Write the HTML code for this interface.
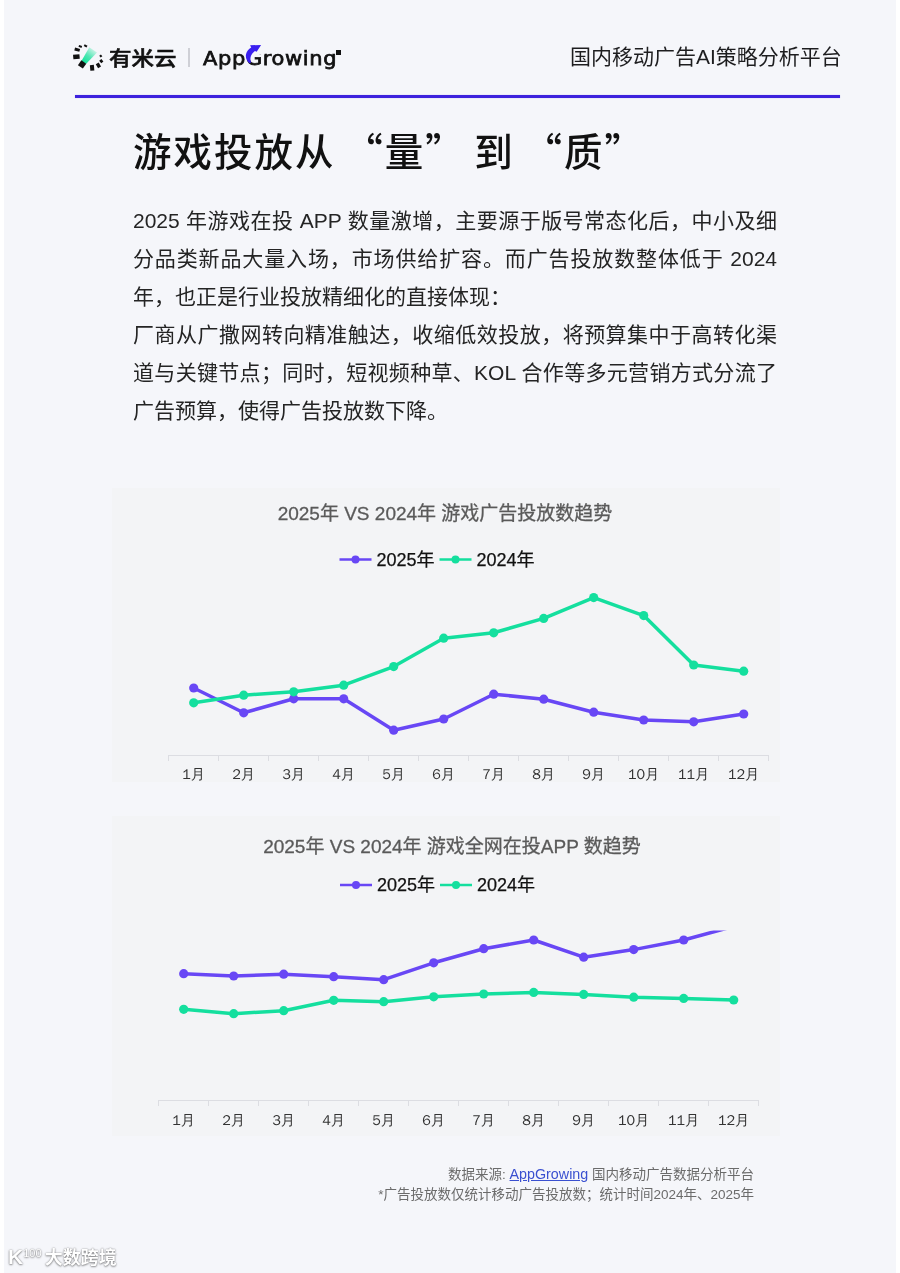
<!DOCTYPE html>
<html lang="zh-CN">
<head>
<meta charset="utf-8">
<title>游戏投放从“量”到“质”</title>
<style>
html,body{margin:0;padding:0;}
body{width:900px;height:1273px;background:#ffffff;position:relative;overflow:hidden;font-family:"Liberation Sans","Noto Sans CJK SC",sans-serif;}
.page{position:absolute;left:4px;top:0;width:892px;height:1273px;background:#f5f6fa;}
.abs{position:absolute;}
.cjk{font-family:"Noto Sans CJK SC",sans-serif;}
.brand-cn{left:109px;top:40px;font-size:22.5px;font-weight:500;color:#111;line-height:34px;white-space:nowrap;transform:scaleY(0.89);transform-origin:50% 58%;-webkit-text-stroke:0.6px #111;}
.sep{left:188px;top:48px;width:1.5px;height:19px;background:#cfd0d6;}
.ag{left:203px;top:42px;font-size:19.6px;font-weight:400;color:#111;line-height:34px;white-space:nowrap;font-family:"DejaVu Sans","Liberation Sans",sans-serif;-webkit-text-stroke:0.75px #111;letter-spacing:0.6px;transform:scaleX(1.07);transform-origin:0 50%;}
.tagline{left:570px;top:40px;font-size:21px;color:#1d1d1f;line-height:34px;white-space:nowrap;}
.rule{left:75px;top:95px;width:765px;height:3px;background:#3d22dd;box-shadow:0 0 1px rgba(70,45,225,.5);}
.title{left:133px;top:120.5px;font-size:38.5px;letter-spacing:2px;word-spacing:-2px;font-weight:500;color:#111;line-height:56px;white-space:nowrap;}
.body{left:133px;top:202px;width:644px;font-size:21px;line-height:38px;color:#242424;}
.ln{height:38px;white-space:nowrap;}
.ln.j{text-align:justify;text-align-last:justify;white-space:normal;}
.panel{background:#f3f4f6;}
.foot{right:146px;font-size:13.5px;color:#6b6b6b;text-align:right;line-height:20px;white-space:nowrap;}
.foot a{color:#3a50d0;text-decoration:underline;font-size:14.3px;}
.wm{left:8px;top:1238px;color:#fff;font-size:18.5px;line-height:30px;white-space:nowrap;text-shadow:0 0 1.5px rgba(0,0,0,.5),0 1px 2px rgba(0,0,0,.35);}
svg text{font-family:"Liberation Sans","Noto Sans CJK SC",sans-serif;}
svg text.ax{font-family:"WenQuanYi Zen Hei",sans-serif;}
</style>
</head>
<body>
<div class="page"></div>

<!-- header -->
<svg class="abs" style="left:68px;top:40px" width="40" height="34" viewBox="68 40 40 34">
  <defs>
    <linearGradient id="lg" x1="82" y1="63" x2="95" y2="47" gradientUnits="userSpaceOnUse">
      <stop offset="0" stop-color="#06e295"/>
      <stop offset="0.45" stop-color="#4fe6b3"/>
      <stop offset="1" stop-color="#f0f8f6"/>
    </linearGradient>
  </defs>
  <polygon points="81.3,61.3 89.3,47.2 97,52.6 86.2,63.8" fill="url(#lg)"/>
  <rect x="-1.6" y="-1" width="3.2" height="2" fill="#111" transform="translate(80.3 46.4) rotate(20)"/>
  <rect x="-1.6" y="-1" width="3.2" height="2" fill="#111" transform="translate(85.6 45.9) rotate(30)"/>
  <rect x="-2.6" y="-1.5" width="5.2" height="3" fill="#111" transform="translate(77.2 49.7) rotate(15)"/>
  <rect x="-3.2" y="-2.3" width="6.4" height="4.6" fill="#111" transform="translate(76.4 56.8) rotate(-5)"/>
  <rect x="-3" y="-3" width="6" height="6" fill="#111" transform="translate(82.1 64.4) rotate(35)"/>
  <rect x="-2" y="-2.8" width="4" height="5.6" fill="#111" transform="translate(92.1 67.8) rotate(-5)"/>
  <rect x="-1.7" y="-2.3" width="3.4" height="4.6" fill="#111" transform="translate(98.4 65.3) rotate(-30)"/>
  <rect x="-1.4" y="-1.6" width="2.8" height="3.2" fill="#111" transform="translate(101.3 61.2) rotate(-40)"/>
  <rect x="-1.1" y="-1.1" width="2.2" height="2.2" fill="#111" transform="translate(100.8 56) rotate(-40)"/>
</svg>
<div class="abs brand-cn cjk">有米云</div>
<div class="abs sep"></div>
<div class="abs ag">AppGrowing</div>
<div class="abs" style="left:336px;top:50px;width:5px;height:5px;background:#111;"></div>
<svg class="abs" style="left:244px;top:42px" width="24" height="26" viewBox="244 42 24 26"><rect x="251.5" y="49" width="13" height="5.6" fill="#f5f6fa"/><path d="M249.3,63.3 C246.4,60.2 245.3,57.2 246.1,54 C246.8,51.3 248.6,49.2 251.2,47.6 L250.1,45.2 L261.1,45.0 L256.7,51.8 L254.9,50.9 C253,52.3 251.4,54.2 250.7,56.8 C250.2,58.8 250.4,60.8 251.1,62.6 Z" fill="#3a1ff0"/></svg>
<div class="abs tagline">国内移动广告AI策略分析平台</div>
<div class="abs rule"></div>

<!-- title -->
<div class="abs title cjk">游戏投放从 “量” 到 “质”</div>

<div class="abs body">
<div class="ln j">2025 年游戏在投 APP 数量激增，主要源于版号常态化后，中小及细</div>
<div class="ln j">分品类新品大量入场，市场供给扩容。而广告投放数整体低于 2024</div>
<div class="ln">年，也正是行业投放精细化的直接体现：</div>
<div class="ln j">厂商从广撒网转向精准触达，收缩低效投放，将预算集中于高转化渠</div>
<div class="ln j">道与关键节点；同时，短视频种草、KOL 合作等多元营销方式分流了</div>
<div class="ln">广告预算，使得广告投放数下降。</div>
</div>

<!-- chart panels -->
<div class="abs panel" style="left:112px;top:488px;width:668px;height:294px;"></div>
<div class="abs panel" style="left:112px;top:816px;width:668px;height:320px;"></div>

<svg class="abs" style="left:0;top:0" width="900" height="1273" viewBox="0 0 900 1273">
<text x="445" y="520" text-anchor="middle" font-size="19" fill="#5a5a5a" stroke="#5a5a5a" stroke-width="0.3">2025年 VS 2024年 游戏广告投放数趋势</text>
<line x1="339.5" y1="559.5" x2="371.5" y2="559.5" stroke="#6847f5" stroke-width="2.5"/>
<circle cx="355.5" cy="559.5" r="4" fill="#6847f5"/>
<text x="376.5" y="565.5" font-size="18" fill="#111" stroke="#111" stroke-width="0.25">2025年</text>
<line x1="439.5" y1="559.5" x2="471.5" y2="559.5" stroke="#14df9e" stroke-width="2.5"/>
<circle cx="455.5" cy="559.5" r="4" fill="#14df9e"/>
<text x="476.5" y="565.5" font-size="18" fill="#111" stroke="#111" stroke-width="0.25">2024年</text>
<line x1="169" y1="755.5" x2="769" y2="755.5" stroke="#dcdde2" stroke-width="1"/>
<line x1="168.5" y1="755" x2="168.5" y2="761" stroke="#dcdde2" stroke-width="1"/>
<line x1="218.5" y1="755" x2="218.5" y2="761" stroke="#dcdde2" stroke-width="1"/>
<line x1="268.5" y1="755" x2="268.5" y2="761" stroke="#dcdde2" stroke-width="1"/>
<line x1="318.5" y1="755" x2="318.5" y2="761" stroke="#dcdde2" stroke-width="1"/>
<line x1="368.5" y1="755" x2="368.5" y2="761" stroke="#dcdde2" stroke-width="1"/>
<line x1="418.5" y1="755" x2="418.5" y2="761" stroke="#dcdde2" stroke-width="1"/>
<line x1="468.5" y1="755" x2="468.5" y2="761" stroke="#dcdde2" stroke-width="1"/>
<line x1="518.5" y1="755" x2="518.5" y2="761" stroke="#dcdde2" stroke-width="1"/>
<line x1="568.5" y1="755" x2="568.5" y2="761" stroke="#dcdde2" stroke-width="1"/>
<line x1="618.5" y1="755" x2="618.5" y2="761" stroke="#dcdde2" stroke-width="1"/>
<line x1="668.5" y1="755" x2="668.5" y2="761" stroke="#dcdde2" stroke-width="1"/>
<line x1="718.5" y1="755" x2="718.5" y2="761" stroke="#dcdde2" stroke-width="1"/>
<line x1="768.5" y1="755" x2="768.5" y2="761" stroke="#dcdde2" stroke-width="1"/>
<text class="ax" x="193.7" y="779" text-anchor="middle" font-size="14.3" fill="#333">1月</text>
<text class="ax" x="243.7" y="779" text-anchor="middle" font-size="14.3" fill="#333">2月</text>
<text class="ax" x="293.7" y="779" text-anchor="middle" font-size="14.3" fill="#333">3月</text>
<text class="ax" x="343.7" y="779" text-anchor="middle" font-size="14.3" fill="#333">4月</text>
<text class="ax" x="393.7" y="779" text-anchor="middle" font-size="14.3" fill="#333">5月</text>
<text class="ax" x="443.7" y="779" text-anchor="middle" font-size="14.3" fill="#333">6月</text>
<text class="ax" x="493.7" y="779" text-anchor="middle" font-size="14.3" fill="#333">7月</text>
<text class="ax" x="543.7" y="779" text-anchor="middle" font-size="14.3" fill="#333">8月</text>
<text class="ax" x="593.7" y="779" text-anchor="middle" font-size="14.3" fill="#333">9月</text>
<text class="ax" x="643.7" y="779" text-anchor="middle" font-size="14.3" fill="#333">10月</text>
<text class="ax" x="693.7" y="779" text-anchor="middle" font-size="14.3" fill="#333">11月</text>
<text class="ax" x="743.7" y="779" text-anchor="middle" font-size="14.3" fill="#333">12月</text>
<g><polyline points="193.7,688 243.7,712.8 293.7,698.8 343.7,698.8 393.7,730.2 443.7,719 493.7,694.2 543.7,699.2 593.7,712.2 643.7,720 693.7,721.8 743.7,714" fill="none" stroke="#6847f5" stroke-width="3.5" stroke-linejoin="round"/>
<circle cx="193.7" cy="688" r="4.6" fill="#6847f5"/>
<circle cx="243.7" cy="712.8" r="4.6" fill="#6847f5"/>
<circle cx="293.7" cy="698.8" r="4.6" fill="#6847f5"/>
<circle cx="343.7" cy="698.8" r="4.6" fill="#6847f5"/>
<circle cx="393.7" cy="730.2" r="4.6" fill="#6847f5"/>
<circle cx="443.7" cy="719" r="4.6" fill="#6847f5"/>
<circle cx="493.7" cy="694.2" r="4.6" fill="#6847f5"/>
<circle cx="543.7" cy="699.2" r="4.6" fill="#6847f5"/>
<circle cx="593.7" cy="712.2" r="4.6" fill="#6847f5"/>
<circle cx="643.7" cy="720" r="4.6" fill="#6847f5"/>
<circle cx="693.7" cy="721.8" r="4.6" fill="#6847f5"/>
<circle cx="743.7" cy="714" r="4.6" fill="#6847f5"/>
</g>
<g><polyline points="193.7,702.8 243.7,695.2 293.7,691.8 343.7,685.2 393.7,666.6 443.7,638.2 493.7,632.8 543.7,618.4 593.7,597.6 643.7,615.6 693.7,665 743.7,671.2" fill="none" stroke="#14df9e" stroke-width="3.5" stroke-linejoin="round"/>
<circle cx="193.7" cy="702.8" r="4.6" fill="#14df9e"/>
<circle cx="243.7" cy="695.2" r="4.6" fill="#14df9e"/>
<circle cx="293.7" cy="691.8" r="4.6" fill="#14df9e"/>
<circle cx="343.7" cy="685.2" r="4.6" fill="#14df9e"/>
<circle cx="393.7" cy="666.6" r="4.6" fill="#14df9e"/>
<circle cx="443.7" cy="638.2" r="4.6" fill="#14df9e"/>
<circle cx="493.7" cy="632.8" r="4.6" fill="#14df9e"/>
<circle cx="543.7" cy="618.4" r="4.6" fill="#14df9e"/>
<circle cx="593.7" cy="597.6" r="4.6" fill="#14df9e"/>
<circle cx="643.7" cy="615.6" r="4.6" fill="#14df9e"/>
<circle cx="693.7" cy="665" r="4.6" fill="#14df9e"/>
<circle cx="743.7" cy="671.2" r="4.6" fill="#14df9e"/>
</g>
<defs><clipPath id="cp2"><rect x="0" y="930.5" width="900" height="400"/></clipPath></defs>
<text x="452" y="853" text-anchor="middle" font-size="19" fill="#5a5a5a" stroke="#5a5a5a" stroke-width="0.3">2025年 VS 2024年 游戏全网在投APP 数趋势</text>
<line x1="340" y1="885" x2="372" y2="885" stroke="#6847f5" stroke-width="2.5"/>
<circle cx="356" cy="885" r="4" fill="#6847f5"/>
<text x="377" y="891" font-size="18" fill="#111" stroke="#111" stroke-width="0.25">2025年</text>
<line x1="440" y1="885" x2="472" y2="885" stroke="#14df9e" stroke-width="2.5"/>
<circle cx="456" cy="885" r="4" fill="#14df9e"/>
<text x="477" y="891" font-size="18" fill="#111" stroke="#111" stroke-width="0.25">2024年</text>
<line x1="159" y1="1100.5" x2="759" y2="1100.5" stroke="#dcdde2" stroke-width="1"/>
<line x1="158.5" y1="1100" x2="158.5" y2="1106" stroke="#dcdde2" stroke-width="1"/>
<line x1="208.5" y1="1100" x2="208.5" y2="1106" stroke="#dcdde2" stroke-width="1"/>
<line x1="258.5" y1="1100" x2="258.5" y2="1106" stroke="#dcdde2" stroke-width="1"/>
<line x1="308.5" y1="1100" x2="308.5" y2="1106" stroke="#dcdde2" stroke-width="1"/>
<line x1="358.5" y1="1100" x2="358.5" y2="1106" stroke="#dcdde2" stroke-width="1"/>
<line x1="408.5" y1="1100" x2="408.5" y2="1106" stroke="#dcdde2" stroke-width="1"/>
<line x1="458.5" y1="1100" x2="458.5" y2="1106" stroke="#dcdde2" stroke-width="1"/>
<line x1="508.5" y1="1100" x2="508.5" y2="1106" stroke="#dcdde2" stroke-width="1"/>
<line x1="558.5" y1="1100" x2="558.5" y2="1106" stroke="#dcdde2" stroke-width="1"/>
<line x1="608.5" y1="1100" x2="608.5" y2="1106" stroke="#dcdde2" stroke-width="1"/>
<line x1="658.5" y1="1100" x2="658.5" y2="1106" stroke="#dcdde2" stroke-width="1"/>
<line x1="708.5" y1="1100" x2="708.5" y2="1106" stroke="#dcdde2" stroke-width="1"/>
<line x1="758.5" y1="1100" x2="758.5" y2="1106" stroke="#dcdde2" stroke-width="1"/>
<text class="ax" x="183.7" y="1124.5" text-anchor="middle" font-size="14.3" fill="#333">1月</text>
<text class="ax" x="233.7" y="1124.5" text-anchor="middle" font-size="14.3" fill="#333">2月</text>
<text class="ax" x="283.7" y="1124.5" text-anchor="middle" font-size="14.3" fill="#333">3月</text>
<text class="ax" x="333.7" y="1124.5" text-anchor="middle" font-size="14.3" fill="#333">4月</text>
<text class="ax" x="383.7" y="1124.5" text-anchor="middle" font-size="14.3" fill="#333">5月</text>
<text class="ax" x="433.7" y="1124.5" text-anchor="middle" font-size="14.3" fill="#333">6月</text>
<text class="ax" x="483.7" y="1124.5" text-anchor="middle" font-size="14.3" fill="#333">7月</text>
<text class="ax" x="533.7" y="1124.5" text-anchor="middle" font-size="14.3" fill="#333">8月</text>
<text class="ax" x="583.7" y="1124.5" text-anchor="middle" font-size="14.3" fill="#333">9月</text>
<text class="ax" x="633.7" y="1124.5" text-anchor="middle" font-size="14.3" fill="#333">10月</text>
<text class="ax" x="683.7" y="1124.5" text-anchor="middle" font-size="14.3" fill="#333">11月</text>
<text class="ax" x="733.7" y="1124.5" text-anchor="middle" font-size="14.3" fill="#333">12月</text>
<g clip-path="url(#cp2)"><polyline points="183.7,973.7 233.7,976 283.7,974.2 333.7,976.7 383.7,979.7 433.7,962.8 483.7,948.7 533.7,940 583.7,957.2 633.7,949.6 683.7,940 733.7,926.4" fill="none" stroke="#6847f5" stroke-width="3.5" stroke-linejoin="round"/>
<circle cx="183.7" cy="973.7" r="4.6" fill="#6847f5"/>
<circle cx="233.7" cy="976" r="4.6" fill="#6847f5"/>
<circle cx="283.7" cy="974.2" r="4.6" fill="#6847f5"/>
<circle cx="333.7" cy="976.7" r="4.6" fill="#6847f5"/>
<circle cx="383.7" cy="979.7" r="4.6" fill="#6847f5"/>
<circle cx="433.7" cy="962.8" r="4.6" fill="#6847f5"/>
<circle cx="483.7" cy="948.7" r="4.6" fill="#6847f5"/>
<circle cx="533.7" cy="940" r="4.6" fill="#6847f5"/>
<circle cx="583.7" cy="957.2" r="4.6" fill="#6847f5"/>
<circle cx="633.7" cy="949.6" r="4.6" fill="#6847f5"/>
<circle cx="683.7" cy="940" r="4.6" fill="#6847f5"/>
</g>
<g clip-path="url(#cp2)"><polyline points="183.7,1009.3 233.7,1013.7 283.7,1010.7 333.7,1000.3 383.7,1001.7 433.7,996.8 483.7,994 533.7,992.4 583.7,994.4 633.7,997.2 683.7,998.4 733.7,1000" fill="none" stroke="#14df9e" stroke-width="3.5" stroke-linejoin="round"/>
<circle cx="183.7" cy="1009.3" r="4.6" fill="#14df9e"/>
<circle cx="233.7" cy="1013.7" r="4.6" fill="#14df9e"/>
<circle cx="283.7" cy="1010.7" r="4.6" fill="#14df9e"/>
<circle cx="333.7" cy="1000.3" r="4.6" fill="#14df9e"/>
<circle cx="383.7" cy="1001.7" r="4.6" fill="#14df9e"/>
<circle cx="433.7" cy="996.8" r="4.6" fill="#14df9e"/>
<circle cx="483.7" cy="994" r="4.6" fill="#14df9e"/>
<circle cx="533.7" cy="992.4" r="4.6" fill="#14df9e"/>
<circle cx="583.7" cy="994.4" r="4.6" fill="#14df9e"/>
<circle cx="633.7" cy="997.2" r="4.6" fill="#14df9e"/>
<circle cx="683.7" cy="998.4" r="4.6" fill="#14df9e"/>
<circle cx="733.7" cy="1000" r="4.6" fill="#14df9e"/>
</g>
</svg>

<div class="abs foot" style="top:1163.5px;">数据来源: <a>AppGrowing</a> 国内移动广告数据分析平台</div>
<div class="abs foot" style="top:1184.5px;">*广告投放数仅统计移动广告投放数；统计时间2024年、2025年</div>

<div class="abs wm"><span style="font-size:21px;font-weight:700;">K</span><sup style="font-size:11px;">100</sup> <span class="cjk" style="font-weight:700;font-size:18px;margin-left:-2px;">大数跨境</span></div>

</body>
</html>
